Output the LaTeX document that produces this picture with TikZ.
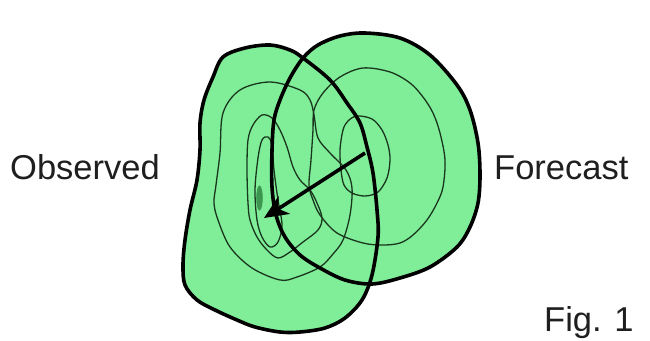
\documentclass[tikz,border=0pt]{standalone}
\usepackage{fontspec}
\setmainfont{Liberation Sans}
\usetikzlibrary{arrows.meta}
\definecolor{blobgreen}{RGB}{128,238,152}
\definecolor{contour}{RGB}{25,55,30}
\definecolor{coregreen}{RGB}{60,150,80}
\tikzset{
  blobfill/.style={fill=blobgreen, draw=none},
  outline/.style={draw=black, line width=3.6pt, line join=round},
  contourline/.style={draw=contour, line width=1.3pt, line join=round},
  lbl/.style={anchor=base west, inner sep=0pt, font=\fontsize{34.5}{38}\selectfont, text=black!88},
  motion/.style={line width=3.6pt, -{Stealth[length=24pt,width=21pt,inset=7pt]}}
}
\begin{document}
\begin{tikzpicture}[x=1pt,y=-1pt]
\useasboundingbox (0,0) rectangle (650,340);
\fill[white] (0,0) rectangle (650,340);
% shapes
\def\obspath{plot[smooth cycle, tension=0.55] coordinates {(223,57) (245,48) (270,45) (290,50) (303,58) (330,80) (347,103) (360,123) (367,147) (373,173) (377,210) (378,237) (372,275) (362,300) (345,318) (325,328) (300,332) (280,332) (255,327) (237,320) (215,310) (197,300) (185,285) (183,265) (185,240) (190,210) (197,180) (200,150) (200,123) (204,100) (213,77)}}
\def\fcpath{plot[smooth cycle, tension=0.55] coordinates {(303,58) (318,45) (340,36) (365,33) (400,38) (430,55) (457,85) (470,110) (478,143) (480,175) (478,203) (470,227) (457,247) (430,267) (400,278) (372,284) (345,280) (320,268) (300,255) (285,237) (276,215) (272,187) (272,150) (274,120) (280,100) (290,78)}}
\path[blobfill] \obspath;
\path[blobfill] \fcpath;
% observed contours
\draw[contourline] plot[smooth cycle, tension=0.55] coordinates {(270,82) (300,90) (310,100) (314,115) (318,138) (330,153) (346,170) (352,188) (350,215) (343,240) (333,254) (320,267) (297,277) (280,280) (252,268) (230,247) (218,220) (214,203) (216,185) (220,153) (223,113) (240,90)};
\draw[contourline] plot[smooth cycle, tension=0.55] coordinates {(262,115) (272,118) (280,130) (287,147) (293,167) (300,180) (310,190) (317,203) (322,218) (318,230) (303,242) (290,252) (278,258) (267,250) (257,237) (250,220) (248,203) (247,170) (248,140) (253,125)};
\draw[contourline] plot[smooth cycle, tension=0.55] coordinates {(262,140) (268,137) (272,145) (274,170) (278,200) (282,225) (278,242) (270,247) (262,237) (257,220) (255,190) (258,158)};
\draw[draw=coregreen, fill=coregreen, line width=0.8pt] (259.5,198) ellipse [x radius=2.8, y radius=12];
% forecast contours
\draw[contourline] plot[smooth cycle, tension=0.55] coordinates {(390,72) (363,68) (340,77) (323,93) (314,110) (313,130) (311,160) (309,185) (313,200) (320,215) (337,233) (363,243) (383,245) (400,243) (413,235) (427,220) (437,203) (443,187) (445,160) (440,133) (433,113) (423,97) (410,83)};
\draw[contourline] plot[smooth cycle, tension=0.55] coordinates {(357,116) (372,119) (382,130) (388,145) (390,160) (387,178) (378,192) (365,196) (352,193) (344,185) (341,170) (340,150) (343,130) (348,121)};
% outlines
\draw[outline] \obspath;
\draw[outline] \fcpath;
% displacement arrow
\coordinate (fc) at (365,153);
\coordinate (oc) at (264,218);
\draw[motion] (fc) -- (oc);
% labels
\node[lbl] (obs) at (10,179) {Observed};
\node[lbl] (fcst) at (494,179) {Forecast};
\node[lbl] (fig) at (544,331) {Fig. 1};
\end{tikzpicture}
\end{document}
